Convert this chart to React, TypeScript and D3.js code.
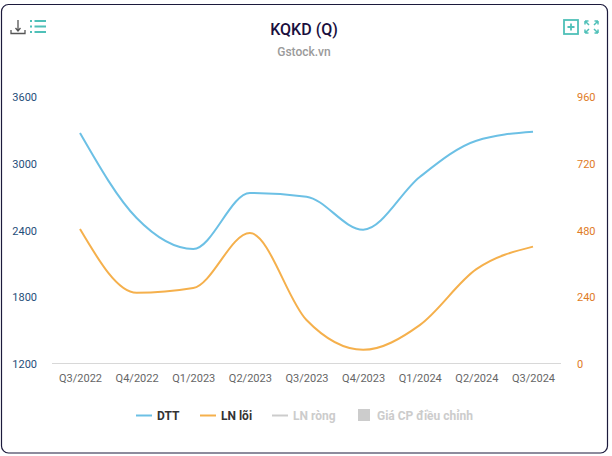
import * as d3 from 'd3';
import React, { useRef, useEffect } from 'react';

const quarters = ['Q3/2022', 'Q4/2022', 'Q1/2023', 'Q2/2023', 'Q3/2023', 'Q4/2023', 'Q1/2024', 'Q2/2024', 'Q3/2024'];
const dtt = [3276, 2512, 2234, 2737, 2704, 2407, 2881, 3207, 3288];
const lnLoi = [485, 256, 273, 471, 158, 51, 140, 341, 422];
const leftTicks = [1200, 1800, 2400, 3000, 3600];
const rightTicks = [0, 240, 480, 720, 960];

const width = 612;
const height = 456;
const marginLeft = 52;
const marginRight = 561;
const axisBottom = 364;
const axisTop = 97;

const App = () => {
    const svgRef = useRef<SVGSVGElement>(null);

    useEffect(() => {
        const svg = d3.select(svgRef.current);
        svg.selectAll('*').remove();

        // outer frame
        svg.append('rect')
            .attr('x', 1.5).attr('y', 4.5)
            .attr('width', 606).attr('height', 448.5)
            .attr('rx', 7)
            .attr('fill', '#fff')
            .attr('stroke', '#1c1a3c')
            .attr('stroke-width', 1.2);

        svg.append('text').attr('x', 304).attr('y', 35)
            .attr('text-anchor', 'middle')
            .attr('font-size', 16).attr('font-weight', 500).attr('fill', '#1a0f3e')
            .text('KQKD (Q)');
        svg.append('text').attr('x', 304).attr('y', 56)
            .attr('text-anchor', 'middle')
            .attr('font-size', 12).attr('font-weight', 500).attr('fill', '#9a9a9a')
            .text('Gstock.vn');

        const x = d3.scalePoint().domain(quarters).range([80, 533]);
        const yLeft = d3.scaleLinear().domain([1200, 3600]).range([axisBottom, axisTop]);
        const yRight = d3.scaleLinear().domain([0, 960]).range([axisBottom, axisTop]);

        // baseline
        svg.append('line')
            .attr('x1', marginLeft).attr('x2', marginRight)
            .attr('y1', axisBottom - 0.5).attr('y2', axisBottom - 0.5)
            .attr('stroke', '#d8d8d8');

        const gx = svg.append('g')
            .attr('transform', `translate(0,${axisBottom})`)
            .call(d3.axisBottom(x).tickSize(0).tickPadding(10));
        gx.select('.domain').remove();
        gx.selectAll('text').attr('font-size', 11).attr('font-family', 'Roboto').attr('fill', '#666');

        const gl = svg.append('g')
            .attr('transform', 'translate(37,0)')
            .call(d3.axisLeft(yLeft).tickValues(leftTicks).tickSize(0).tickPadding(0).tickFormat(d3.format('d')));
        gl.select('.domain').remove();
        gl.selectAll('text').attr('font-size', 11).attr('font-family', 'Roboto').attr('fill', '#1f4e79');

        const gr = svg.append('g')
            .attr('transform', 'translate(577,0)')
            .call(d3.axisRight(yRight).tickValues(rightTicks).tickSize(0).tickPadding(0).tickFormat(d3.format('d')));
        gr.select('.domain').remove();
        gr.selectAll('text').attr('font-size', 11).attr('font-family', 'Roboto').attr('fill', '#e07b26');

        const line = d3.line<number>().curve(d3.curveMonotoneX);

        svg.append('path')
            .attr('d', line.x((_, i) => x(quarters[i])!).y((d) => yLeft(d))(dtt))
            .attr('fill', 'none').attr('stroke', '#6cc0e5').attr('stroke-width', 2);
        svg.append('path')
            .attr('d', line.x((_, i) => x(quarters[i])!).y((d) => yRight(d))(lnLoi))
            .attr('fill', 'none').attr('stroke', '#f5b04c').attr('stroke-width', 2);

        // legend
        const legend = [
            { label: 'DTT', x: 136, color: '#6cc0e5', text: '#333' },
            { label: 'LN lõi', x: 200, color: '#f5b04c', text: '#333' },
            { label: 'LN ròng', x: 272, color: '#ccc', text: '#ccc' },
        ];
        legend.forEach((d) => {
            svg.append('line')
                .attr('x1', d.x).attr('x2', d.x + 16).attr('y1', 415.5).attr('y2', 415.5)
                .attr('stroke', d.color).attr('stroke-width', 2);
            svg.append('text').attr('x', d.x + 21).attr('y', 420)
                .attr('font-size', 12).attr('font-weight', 700).attr('fill', d.text)
                .text(d.label);
        });
        svg.append('rect').attr('x', 358).attr('y', 409).attr('width', 12).attr('height', 12).attr('fill', '#ccc');
        svg.append('text').attr('x', 377).attr('y', 420)
            .attr('font-size', 12).attr('font-weight', 700).attr('fill', '#ccc')
            .text('Giá CP điều chỉnh');

        // toolbar icons
        const teal = '#4fc0b8';
        const grey = '#555';
        svg.append('path')
            .attr('d', 'M18 20V31M15.5 28L18 31L20.5 28M11 30V33.5H25V30')
            .attr('fill', 'none').attr('stroke', grey).attr('stroke-width', 1.3);
        svg.append('path')
            .attr('d', 'M30 21H32M34.5 21H46M30 26.5H32M34.5 26.5H46M30 32H32M34.5 32H46')
            .attr('fill', 'none').attr('stroke', teal).attr('stroke-width', 1.8);
        svg.append('rect').attr('x', 564).attr('y', 20).attr('width', 14).attr('height', 14)
            .attr('fill', 'none').attr('stroke', teal).attr('stroke-width', 1.8);
        svg.append('path')
            .attr('d', 'M571 23.5V30.5M567.5 27H574.5')
            .attr('fill', 'none').attr('stroke', teal).attr('stroke-width', 1.8);
        svg.append('path')
            .attr('d', 'M585 21L589 25M585 21V24.5M585 21H588.5M598 21L594 25M598 21V24.5M598 21H594.5M585 33L589 29M585 33V29.5M585 33H588.5M598 33L594 29M598 33V29.5M598 33H594.5')
            .attr('fill', 'none').attr('stroke', teal).attr('stroke-width', 1.5);
    }, []);

    return (
        <svg
            ref={svgRef}
            width={width}
            height={height}
            fontFamily="Roboto"
            style={{ position: 'absolute', left: 0, top: 0, background: '#fff' }}
        />
    );
};

export default App;
